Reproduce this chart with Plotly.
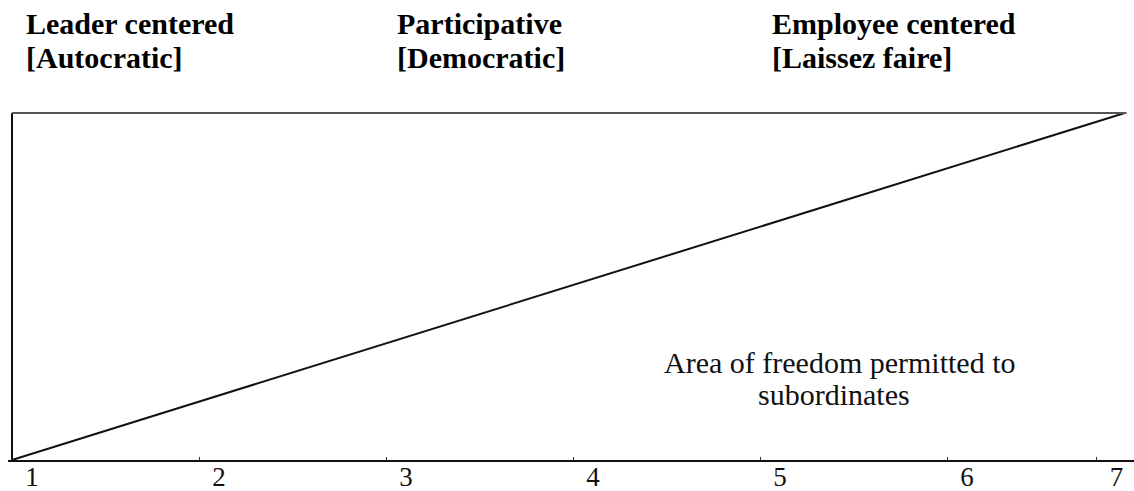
import plotly.graph_objects as go

# ---- data ----
tick_values = [1, 2, 3, 4, 5, 6, 6.8]
tick_labels = ["1", "2", "3", "4", "5", "6", "7"]
line_x = [1, 6.95]
line_y = [0, 1]
headers = [
    ("Leader centered", "[Autocratic]"),
    ("Participative", "[Democratic]"),
    ("Employee centered", "[Laissez faire]"),
]
area_text = ["Area of freedom permitted to", "subordinates"]

W, H = 1134, 491
L, R, T, B = 8, 0, 113, 31
pw, ph = W - L - R, H - T - B


def px(x):
    return (x - L) / pw


def py(y):
    return (H - B - y) / ph


SERIF = "Liberation Serif"

fig = go.Figure()
fig.add_trace(go.Scatter(
    x=line_x, y=line_y, mode="lines",
    line=dict(color="#111111", width=2),
    cliponaxis=False, hoverinfo="skip", showlegend=False,
))

# frame: left vertical and top line
fig.add_shape(type="line", xref="x", yref="paper", x0=1, x1=1, y0=0, y1=1,
              line=dict(color="#111111", width=2))
fig.add_shape(type="line", xref="x", yref="paper", x0=1, x1=6.96, y0=1, y1=1,
              line=dict(color="#555555", width=2))

annotations = []
header_x = [24, 395, 770]
for (l1, l2), hx in zip(headers, header_x):
    for txt, yc in ((l1, 24), (l2, 57)):
        annotations.append(dict(
            text="<b>%s</b>" % txt, xref="paper", yref="paper",
            x=px(hx), y=py(yc), xanchor="left", yanchor="middle",
            showarrow=False, font=dict(family=SERIF, size=30, color="#000000"),
        ))
for txt, xc, yc in ((area_text[0], 840, 362), (area_text[1], 834, 394)):
    annotations.append(dict(
        text=txt, xref="paper", yref="paper",
        x=px(xc), y=py(yc), xanchor="center", yanchor="middle",
        showarrow=False, font=dict(family=SERIF, size=30, color="#111111"),
    ))

fig.update_layout(
    width=W, height=H,
    margin=dict(l=L, r=R, t=T, b=B, pad=0),
    paper_bgcolor="white", plot_bgcolor="white",
    annotations=annotations,
    xaxis=dict(
        range=[1 - 4 / 187, 7.0], showgrid=False, zeroline=False,
        showline=True, linecolor="#111111", linewidth=2,
        tickvals=tick_values, ticktext=tick_labels,
        ticks="inside", ticklen=3, tickwidth=1, tickcolor="#333333",
        ticklabelshift=20, ticklabelstandoff=-8,
        tickfont=dict(family=SERIF, size=27, color="#111111"),
        fixedrange=True, automargin=False,
    ),
    yaxis=dict(range=[0, 1], visible=False, fixedrange=True),
)

fig.write_html(
    "out.html",
    config={"displayModeBar": False},
    post_script="document.body.style.margin='0';document.body.style.overflow='hidden';",
)
